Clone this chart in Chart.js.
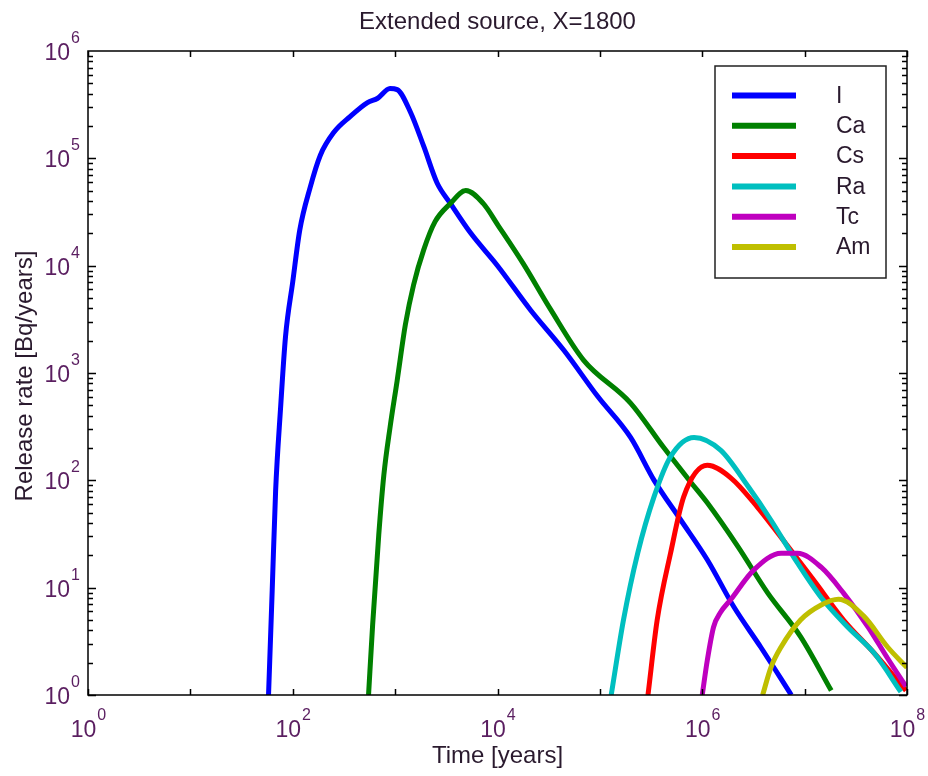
<!DOCTYPE html>
<html>
<head>
<meta charset="utf-8">
<title>Extended source, X=1800</title>
<script src="https://cdn.jsdelivr.net/npm/chart.js@4.4.0/dist/chart.umd.min.js"></script>
<style>
    html, body { margin: 0; padding: 0; background: #fff; }
    #wrap { width: 928px; height: 776px; }
</style>
</head>
<body>
<div id="wrap"><canvas id="releaseChart" width="928" height="776"></canvas></div>
<script>
// chart text
const titleText = 'Extended source, X=1800';
const xTitle = 'Time [years]';
const yTitle = 'Release rate [Bq/years]';

// tick labels (powers of ten)
const xTickExps = [0, 2, 4, 6, 8];
const yTickExps = [0, 1, 2, 3, 4, 5, 6];

// nuclides
const nuclides = ['I', 'Ca', 'Cs', 'Ra', 'Tc', 'Am'];
const colors = ['#0000ff', '#008000', '#ff0000', '#00bfbf', '#bf00bf', '#bfbf00'];

// values: time [years] / release rate [Bq/years]
const iTime = [58, 63, 68, 76, 85, 100, 117, 148, 186, 251, 363, 537, 676, 891, 1047, 1413, 1905, 2570, 3467, 5495, 10000, 20900, 44700, 95500, 199500, 338800, 616600, 1120000, 2040000, 3720000, 7410000];
const iRate = [1, 9.5, 79, 468, 2190, 7080, 21400, 53700, 107000, 174000, 245000, 331000, 363000, 447000, 437000, 269000, 129000, 58900, 38000, 20000, 10000, 3890, 1620, 603, 251, 100, 42.7, 18.2, 6.6, 2.8, 1];

const caTime = [550, 603, 692, 776, 891, 1047, 1259, 1514, 1905, 2455, 3467, 4898, 7244, 10230, 17780, 33110, 69180, 199500, 416900, 776200, 1120000, 2240000, 4370000, 9120000, 18200000];
const caRate = [1, 4.5, 31, 112, 309, 851, 2820, 6610, 14100, 25700, 38000, 50100, 38000, 23400, 10500, 3890, 1320, 525, 204, 95.5, 61.7, 24, 8.9, 3.5, 1.1];

const csTime = [295000, 363000, 490000, 661000, 1120000, 1910000, 3470000, 6920000, 12300000, 24000000, 47900000, 97700000];
const csRate = [1, 5.0, 20.9, 70.8, 138, 105, 56, 24, 11.7, 5.0, 2.45, 1.1];

const raTime = [129000, 170000, 234000, 339000, 490000, 832000, 1510000, 2820000, 4680000, 8510000, 14500000, 26300000, 47900000, 87100000];
const raRate = [1, 5.0, 20.9, 70.8, 166, 251, 191, 87, 42.7, 17, 8.1, 4.3, 2.45, 1.07];

const tcTime = [1000000, 1120000, 1290000, 1510000, 1910000, 3160000, 5890000, 8510000, 14500000, 24000000, 41700000, 64600000, 97700000];
const tcRate = [1, 2.1, 4.3, 5.9, 7.8, 14.5, 20.9, 20.9, 15.5, 8.9, 4.3, 2.2, 1.2];

const amTime = [3890000, 4680000, 5890000, 9120000, 14500000, 21400000, 38000000, 64600000, 100000000];
const amRate = [1, 1.8, 2.8, 5.0, 6.9, 7.8, 5.4, 2.8, 1.8];

const times = [iTime, caTime, csTime, raTime, tcTime, amTime];
const rates = [iRate, caRate, csRate, raRate, tcRate, amRate];

const fontFamily = '"Liberation Sans", Arial, sans-serif';
const textColor = '#2a1a2e';
const tickColor = '#5a1e60';

function pairs(xs, ys) {
    return xs.map((t, k) => ({ x: t, y: ys[k] }));
}

// axes box, inward ticks, tick labels, titles and legend
const decorations = {
    id: 'decorations',
    afterDatasetsDraw(chart) {
        const ctx = chart.ctx;
        const a = chart.chartArea;
        const xs = chart.scales.x;
        const ys = chart.scales.y;
        ctx.save();
        ctx.strokeStyle = '#000';
        ctx.lineWidth = 1.5;
        ctx.strokeRect(a.left, a.top, a.right - a.left, a.bottom - a.top);

        ctx.beginPath();
        for (let e = 0; e <= 8; e++) {
            const px = Math.round(xs.getPixelForValue(Math.pow(10, e))) + 0.5;
            ctx.moveTo(px, a.bottom); ctx.lineTo(px, a.bottom - 6);
            ctx.moveTo(px, a.top); ctx.lineTo(px, a.top + 6);
        }
        for (let e = 0; e < 6; e++) {
            for (let m = 1; m <= 9; m++) {
                const py = Math.round(ys.getPixelForValue(m * Math.pow(10, e))) + 0.5;
                const len = m === 1 ? 8 : 5;
                ctx.moveTo(a.left, py); ctx.lineTo(a.left + len, py);
                ctx.moveTo(a.right, py); ctx.lineTo(a.right - len, py);
            }
        }
        ctx.stroke();
        ctx.restore();
    },
    afterDraw(chart) {
        const ctx = chart.ctx;
        const a = chart.chartArea;
        const xs = chart.scales.x;
        const ys = chart.scales.y;
        const big = '23px ' + fontFamily;
        const small = '16px ' + fontFamily;
        ctx.save();
        ctx.fillStyle = tickColor;
        ctx.textBaseline = 'alphabetic';
        ctx.textAlign = 'left';

        xTickExps.forEach(e => {
            const px = xs.getPixelForValue(Math.pow(10, e));
            ctx.font = big;
            const w1 = ctx.measureText('10').width;
            ctx.font = small;
            const w2 = ctx.measureText(String(e)).width;
            const x0 = px - (w1 + w2) / 2;
            ctx.font = big;
            ctx.fillText('10', x0, a.bottom + 42);
            ctx.font = small;
            ctx.fillText(String(e), x0 + w1 + 1, a.bottom + 25);
        });

        yTickExps.forEach(e => {
            const py = ys.getPixelForValue(Math.pow(10, e));
            ctx.font = big;
            const w1 = ctx.measureText('10').width;
            ctx.fillText('10', 70 - w1, py + 9);
            ctx.font = small;
            ctx.fillText(String(e), 71, py - 8);
        });

        ctx.fillStyle = textColor;
        ctx.font = '24px ' + fontFamily;
        ctx.textAlign = 'center';
        const cx = (a.left + a.right) / 2;
        ctx.fillText(titleText, cx, 29);
        ctx.fillText(xTitle, cx, 763);
        ctx.save();
        ctx.translate(32, (a.top + a.bottom) / 2 + 3);
        ctx.rotate(-Math.PI / 2);
        ctx.fillText(yTitle, 0, 0);
        ctx.restore();

        // legend
        const box = { left: 715, top: 66, right: 886, bottom: 278 };
        ctx.fillStyle = '#fff';
        ctx.fillRect(box.left, box.top, box.right - box.left, box.bottom - box.top);
        ctx.strokeStyle = '#222';
        ctx.lineWidth = 1.5;
        ctx.strokeRect(box.left, box.top, box.right - box.left, box.bottom - box.top);
        ctx.font = '23px ' + fontFamily;
        ctx.textAlign = 'left';
        ctx.textBaseline = 'middle';
        chart.data.datasets.forEach((ds, k) => {
            const ly = 95.5 + k * 30.3;
            ctx.strokeStyle = ds.borderColor;
            ctx.lineWidth = 6;
            ctx.beginPath();
            ctx.moveTo(732, ly);
            ctx.lineTo(796, ly);
            ctx.stroke();
            ctx.fillStyle = textColor;
            ctx.fillText(ds.label, 836, ly + 1);
        });
        ctx.restore();
    }
};

const chart = new Chart(document.getElementById('releaseChart'), {
    type: 'line',
    data: {
        datasets: nuclides.map((name, k) => ({
            label: name,
            data: pairs(times[k], rates[k]),
            borderColor: colors[k],
            backgroundColor: colors[k],
            borderWidth: 5,
            pointRadius: 0,
            fill: false,
            cubicInterpolationMode: 'monotone',
            clip: 0,
            order: nuclides.length - k
        }))
    },
    options: {
        responsive: false,
        animation: false,
        layout: { padding: { left: 88, top: 51, right: 21, bottom: 81 } },
        plugins: {
            legend: { display: false },
            title: { display: false },
            tooltip: { enabled: false }
        },
        scales: {
            x: { type: 'logarithmic', min: 1, max: 1e8, display: false },
            y: { type: 'logarithmic', min: 1, max: 1e6, display: false }
        }
    },
    plugins: [decorations]
});
</script>
</body>
</html>
